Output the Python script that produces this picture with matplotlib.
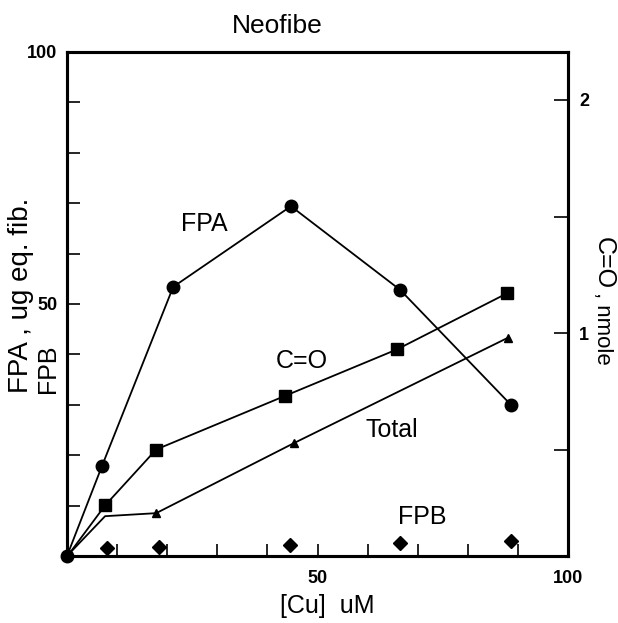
import matplotlib
matplotlib.use("Agg")
import matplotlib.pyplot as plt

plt.rcParams['font.family'] = ['Liberation Sans', 'DejaVu Sans']

# values
cu_fpa = [0, 7.0, 21.2, 44.7, 66.5, 88.6]
fpa = [0, 17.9, 53.4, 69.4, 52.8, 30.0]

cu_co = [0, 7.6, 17.8, 43.5, 65.9, 87.8]
co_nmole = [0.04, 0.26, 0.50, 0.73, 0.93, 1.17]

cu_total = [0, 7.6, 17.8, 45.3, 88.0]
total = [0, 7.9, 8.5, 22.4, 43.3]

cu_fpb = [8.0, 18.4, 44.5, 66.5, 88.6]
fpb = [1.6, 1.8, 2.2, 2.6, 3.0]

W, H = 618, 623
fig = plt.figure(figsize=(W / 100, H / 100), dpi=100)
ax = fig.add_axes([67 / W, 1 - 556 / H, 501 / W, 504 / H])
ax2 = ax.twinx()

ax.set_xlim(0, 100)
ax.set_ylim(0, 100)
ax2.set_ylim(0.043, 2.206)

# curves
ax.plot(cu_fpa, fpa, color='black', lw=1.3, marker='o', ms=9, clip_on=False, zorder=5)
ax2.plot(cu_co, co_nmole, color='black', lw=1.3, marker='s', ms=8, markevery=[1, 2, 3, 4, 5],
         clip_on=False, zorder=5)
ax.plot(cu_total, total, color='black', lw=1.3, marker='^', ms=6, markevery=[2, 3, 4],
        clip_on=False, zorder=4)
ax.plot(cu_fpb, fpb, linestyle='none', color='black', marker='D', ms=7.5, clip_on=False, zorder=5)

# axes look
for a in (ax, ax2):
    for s in a.spines.values():
        s.set_linewidth(2.2)

ax.set_xticks(range(10, 101, 10))
ax.set_xticklabels(['' if v not in (50, 100) else str(v) for v in range(10, 101, 10)])
ax.set_yticks(range(10, 101, 10))
ax.set_yticklabels(['' if v not in (50, 100) else str(v) for v in range(10, 101, 10)])
ax.tick_params(axis='x', direction='in', length=9, width=1.2, pad=10, labelsize=13)
ax.tick_params(axis='y', direction='in', length=9, width=1.2, pad=7, labelsize=13)
ax2.set_yticks([0.5, 1.0, 1.5, 2.0])
ax2.set_yticklabels(['', '1', '', '2'])
ax2.tick_params(axis='y', direction='in', length=10, width=1.2, pad=8, labelsize=13)
for lab in ax.get_xticklabels() + ax.get_yticklabels() + ax2.get_yticklabels():
    lab.set_fontweight('bold')

# curve names
def px(x, y):
    return x / W, 1 - y / H

ax.text(*px(204, 224), 'FPA', transform=fig.transFigure, ha='center', va='center', fontsize=18)
ax.text(*px(302, 361), 'C=O', transform=fig.transFigure, ha='center', va='center', fontsize=18)
ax.text(*px(392, 430), 'Total', transform=fig.transFigure, ha='center', va='center', fontsize=18)
ax.text(*px(422, 517), 'FPB', transform=fig.transFigure, ha='center', va='center', fontsize=18)

# title and axis names
fig.text(*px(277, 26), 'Neofibe', ha='center', va='center', fontsize=19)
fig.text(*px(327, 606), '[Cu]  uM', ha='center', va='center', fontsize=18)
fig.text(*px(28, 393), 'FPA , ug eq. fib.', rotation=90, rotation_mode='anchor',
         ha='left', va='baseline', fontsize=20)
fig.text(*px(55, 393), 'FPB', rotation=90, rotation_mode='anchor',
         ha='left', va='baseline', fontsize=18)
fig.text(*px(597, 237), 'C=O', rotation=-90, rotation_mode='anchor',
         ha='left', va='baseline', fontsize=18)
fig.text(*px(597, 292), ', nmole', rotation=-90, rotation_mode='anchor',
         ha='left', va='baseline', fontsize=16)

fig.savefig('out.png', dpi=100)
